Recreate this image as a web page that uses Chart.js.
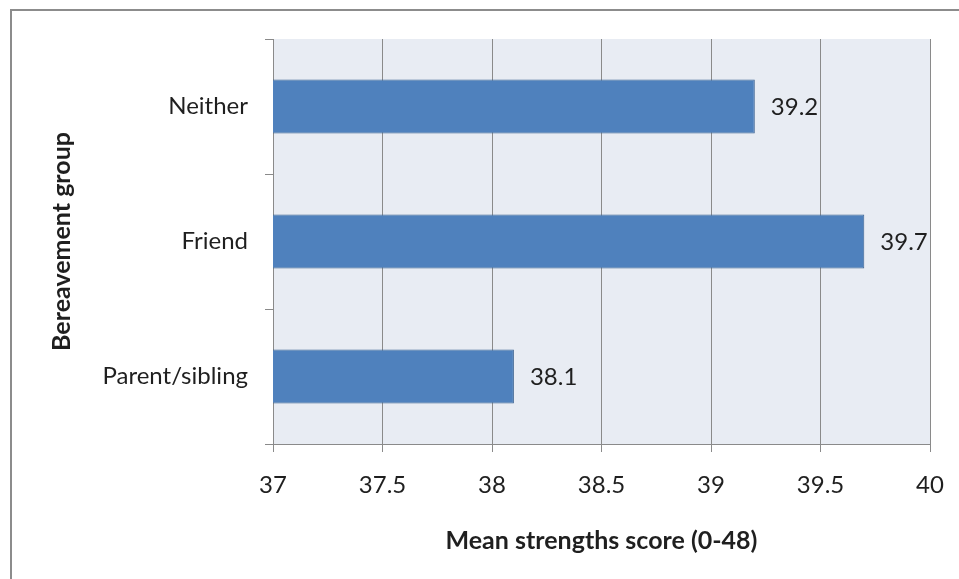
<!DOCTYPE html>
<html>
<head>
<meta charset="utf-8">
<script src="https://cdn.jsdelivr.net/npm/chart.js@4/dist/chart.umd.min.js"></script>
<style>
  html, body { margin: 0; padding: 0; background: #ffffff; overflow: hidden; }
  #wrap { position: relative; width: 959px; height: 579px; }
  #frame {
    position: absolute; left: 10px; top: 9px; width: 2000px; height: 2000px;
    border-left: 2px solid #8c8c8c; border-top: 2px solid #8c8c8c;
  }
  #chart { position: absolute; left: 0; top: 0; }
</style>
</head>
<body>
<div id="wrap">
  <div id="frame"></div>
  <canvas id="chart" width="959" height="579"></canvas>
</div>
<script>
// Mean strengths score by bereavement group
const groups = ['Neither', 'Friend', 'Parent/sibling'];
const meanScores = [39.2, 39.7, 38.1];
const xTicks = [37, 37.5, 38, 38.5, 39, 39.5, 40];

const xTitle = 'Mean strengths score (0-48)';
const yTitle = 'Bereavement group';

const FONT = 'Lato, "Open Sans", "DejaVu Sans", sans-serif';
const GRID = '#8a8a8a';
const TEXT = '#1f1f1f';

// Light panel behind the bars
const plotBackground = {
  id: 'plotBackground',
  beforeDraw(chart) {
    const { ctx, chartArea: a } = chart;
    ctx.save();
    ctx.fillStyle = '#e8ecf3';
    ctx.fillRect(a.left, a.top, a.right - a.left, a.bottom - a.top);
    ctx.restore();
  }
};

// Value printed just past the end of each bar
const barValues = {
  id: 'barValues',
  afterDatasetsDraw(chart) {
    const { ctx } = chart;
    const meta = chart.getDatasetMeta(0);
    const values = chart.data.datasets[0].data;
    ctx.save();
    ctx.font = '24px ' + FONT;
    ctx.fillStyle = TEXT;
    ctx.textAlign = 'left';
    ctx.textBaseline = 'middle';
    meta.data.forEach((bar, i) => {
      ctx.fillText(values[i].toFixed(1), bar.x + 16, bar.y + 1);
    });
    ctx.restore();
  }
};

new Chart(document.getElementById('chart'), {
  type: 'bar',
  data: {
    labels: groups,
    datasets: [{
      data: meanScores,
      backgroundColor: '#4f81bd',
      borderColor: '#3a6190',
      borderWidth: 1,
      borderSkipped: false,
      categoryPercentage: 1.0,
      barPercentage: 0.4
    }]
  },
  options: {
    indexAxis: 'y',
    responsive: false,
    animation: false,
    devicePixelRatio: 1,
    layout: { padding: { left: 0, top: 39, right: 29, bottom: 0 } },
    plugins: {
      legend: { display: false },
      tooltip: { enabled: false }
    },
    scales: {
      x: {
        type: 'linear',
        min: xTicks[0],
        max: xTicks[xTicks.length - 1],
        afterBuildTicks(scale) {
          scale.ticks = xTicks.map(v => ({ value: v }));
        },
        afterFit(scale) {
          scale.height = 135;
          scale.paddingLeft = 0;
          scale.paddingRight = 0;
        },
        grid: {
          color: GRID,
          lineWidth: 1,
          drawTicks: true,
          tickLength: 8
        },
        border: { display: true, color: GRID, width: 1 },
        ticks: {
          color: TEXT,
          font: { family: FONT, size: 24 },
          padding: 19,
          maxRotation: 0,
          callback: v => String(v)
        },
        title: {
          display: true,
          text: xTitle,
          color: TEXT,
          font: { family: FONT, size: 25, weight: 'bold' },
          padding: { top: 0, bottom: 23 }
        }
      },
      y: {
        afterFit(scale) {
          scale.width = 273;
          scale.paddingTop = 0;
          scale.paddingBottom = 0;
        },
        grid: {
          offset: true,
          drawOnChartArea: false,
          drawTicks: true,
          tickLength: 8,
          color: GRID
        },
        border: { display: true, color: GRID, width: 1 },
        ticks: {
          color: TEXT,
          font: { family: FONT, size: 24 },
          padding: 17
        },
        title: {
          display: true,
          text: yTitle,
          color: TEXT,
          font: { family: FONT, size: 25, weight: 'bold' },
          padding: { top: 47, bottom: 0 }
        }
      }
    }
  },
  plugins: [plotBackground, barValues]
});
</script>
</body>
</html>
